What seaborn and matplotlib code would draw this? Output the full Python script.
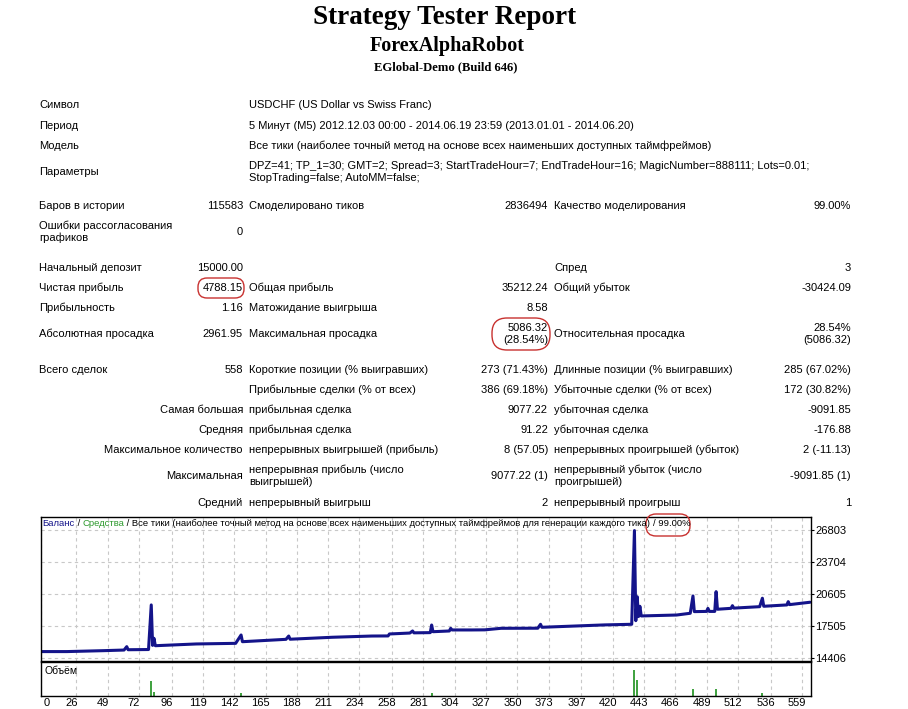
import numpy as np
import matplotlib
matplotlib.use("Agg")
import matplotlib.pyplot as plt
from matplotlib.patches import FancyBboxPatch
from matplotlib.transforms import ScaledTranslation
import seaborn as sns

# header
title = "Strategy Tester Report"
robot = "ForexAlphaRobot"
server = "EGlobal-Demo (Build 646)"

# general info
info_names = ["Символ", "Период", "Модель", "Параметры"]
info_texts = [
    "USDCHF (US Dollar vs Swiss Franc)",
    "5 Минут (M5) 2012.12.03 00:00 - 2014.06.19 23:59 (2013.01.01 - 2014.06.20)",
    "Все тики (наиболее точный метод на основе всех наименьших доступных таймфреймов)",
    "DPZ=41; TP_1=30; GMT=2; Spread=3; StartTradeHour=7; EndTradeHour=16; MagicNumber=888111; Lots=0.01;\n"
    "StopTrading=false; AutoMM=false;",
]

# results: label, value, label, value, label, value
stats_rows = [
    ["Баров в истории", "115583", "Смоделировано тиков", "2836494", "Качество моделирования", "99.00%"],
    ["Ошибки рассогласования\nграфиков", "0", "", "", "", ""],
    ["Начальный депозит", "15000.00", "", "", "Спред", "3"],
    ["Чистая прибыль", "4788.15", "Общая прибыль", "35212.24", "Общий убыток", "-30424.09"],
    ["Прибыльность", "1.16", "Матожидание выигрыша", "8.58", "", ""],
    ["Абсолютная просадка", "2961.95", "Максимальная просадка", "5086.32\n(28.54%)",
     "Относительная просадка", "28.54%\n(5086.32)"],
    ["Всего сделок", "558", "Короткие позиции (% выигравших)", "273 (71.43%)",
     "Длинные позиции (% выигравших)", "285 (67.02%)"],
    ["", "", "Прибыльные сделки (% от всех)", "386 (69.18%)", "Убыточные сделки (% от всех)", "172 (30.82%)"],
]

# trade rows: prefix, label, value, label, value
trade_rows = [
    ["Самая большая", "прибыльная сделка", "9077.22", "убыточная сделка", "-9091.85"],
    ["Средняя", "прибыльная сделка", "91.22", "убыточная сделка", "-176.88"],
    ["Максимальное количество", "непрерывных выигрышей (прибыль)", "8 (57.05)",
     "непрерывных проигрышей (убыток)", "2 (-11.13)"],
    ["Максимальная", "непрерывная прибыль (число\nвыигрышей)", "9077.22 (1)",
     "непрерывный убыток (число\nпроигрышей)", "-9091.85 (1)"],
    ["Средний", "непрерывный выигрыш", "2", "непрерывный проигрыш", "1"],
]

# chart caption pieces
caption = ["Баланс", " / ", "Средства", " / Все тики (наиболее точный метод на основе всех "
           "наименьших доступных таймфреймов для генерации каждого тика) ", "/ 99.00%"]

# balance curve
trade_no = [0, 19, 46, 61, 63, 64, 79, 81, 82, 83, 84, 114, 143, 147, 148, 180, 182, 183,
            214, 243, 255, 256, 271, 273, 274, 286, 287, 288, 300, 301, 302, 316, 326, 338,
            365, 367, 368, 380, 414, 434, 436, 437, 438, 439, 440, 441, 467, 477, 479, 480,
            489, 490, 491, 495, 496, 497, 507, 508, 509, 528, 530, 531, 548, 549, 550, 565]
balance = [15000, 15000, 15090, 15150, 15480, 15180, 15200, 19530, 15600, 16290, 15570,
           15740, 15800, 16610, 15960, 16190, 16510, 16200, 16390, 16510, 16520, 16710,
           16800, 17000, 16820, 16840, 17580, 16930, 17000, 17260, 17100, 17100, 17110,
           17260, 17270, 17650, 17360, 17420, 17590, 17650, 26750, 18000, 20330, 18400,
           19400, 18460, 18550, 18720, 20400, 18880, 18900, 19200, 18900, 18900, 20820,
           19110, 19200, 19460, 19220, 19360, 20180, 19400, 19530, 19850, 19560, 19790]

# volume bars
vol_trade = [81, 83, 147, 287, 436, 438, 479, 496, 530]
vol_size = [0.44, 0.12, 0.08, 0.08, 0.76, 0.47, 0.20, 0.20, 0.09]

x_ticks = [0, 26, 49, 72, 96, 119, 142, 165, 188, 211, 234, 258, 281, 304, 327, 350,
           373, 397, 420, 443, 466, 489, 512, 536, 559]
y_ticks = [14406, 17505, 20605, 23704, 26803]

sns.set_style("white")
plt.rcParams["font.family"] = ["Liberation Sans", "DejaVu Sans"]
plt.rcParams["text.color"] = "black"
plt.rcParams["xtick.color"] = "black"
plt.rcParams["ytick.color"] = "black"

W, H = 908, 709
fig = plt.figure(figsize=(W / 100, H / 100), dpi=100)

navy = "#14148a"
green = "#2e9a2e"
grid_c = "#c8c8c8"

def fax(x0, y0, x1, y1):
    # pixel box -> figure fraction
    return [x0 / W, 1 - y1 / H, (x1 - x0) / W, (y1 - y0) / H]

# balance panel
ax = fig.add_axes(fax(41, 517, 810.7, 660.7))
sns.lineplot(x=trade_no, y=balance, ax=ax, color=navy, linewidth=2.2,
             estimator=None, sort=False)
ax.set_xlim(2.85, 565.5)
ax.set_ylim(14115, 28066)
ax.set_xticks(x_ticks)
ax.set_xticklabels([])
ax.set_yticks(y_ticks)
ax.yaxis.tick_right()
ax.tick_params(axis="y", length=2, width=0.8, pad=1.5, labelsize=8)
ax.tick_params(axis="x", length=0)
ax.grid(True, color=grid_c, linestyle=(0, (3, 3)), linewidth=0.8)
ax.set_xlabel("")
ax.set_ylabel("")
for s in ax.spines.values():
    s.set_color("black")
    s.set_linewidth(1)

# volume panel
axv = fig.add_axes(fax(41, 662, 810.7, 695.7))
axv.vlines(vol_trade, 0, vol_size, color=green, linewidth=1.3)
axv.set_xlim(2.85, 565.5)
axv.set_ylim(0, 1)
axv.set_yticks([])
axv.set_xticks(x_ticks)
axv.set_xticklabels([str(t) for t in x_ticks])
axv.tick_params(axis="x", length=0, pad=2, labelsize=8)
axv.grid(True, axis="x", color=grid_c, linestyle=(0, (3, 3)), linewidth=0.8)
for i, lab in enumerate(axv.get_xticklabels()):
    dx = 6 if i == 0 else -5
    lab.set_transform(lab.get_transform() + ScaledTranslation(dx / 100, 0, fig.dpi_scale_trans))
for s in axv.spines.values():
    s.set_color("black")
    s.set_linewidth(1)
axv.text(0.004, 0.72, "Объём", transform=axv.transAxes, fontsize=7.5, va="center", ha="left")

# overlay for the report text
ov = fig.add_axes([0, 0, 1, 1], zorder=5)
ov.set_xlim(0, W)
ov.set_ylim(H, 0)
ov.axis("off")
ov.patch.set_alpha(0)

serif = "Liberation Serif"
ov.text(445, 18, title, fontsize=19.5, fontweight="bold", family=serif, ha="center", va="center")
ov.text(447, 46, robot, fontsize=14.5, fontweight="bold", family=serif, ha="center", va="center")
ov.text(446, 67, server, fontsize=9.1, fontweight="bold", family=serif, ha="center", va="center")

fs = 8
c1, v1, c2, v2, c3, v3 = 39, 243, 249, 548, 554, 851

for name, txt, y in zip(info_names, info_texts, [105, 126, 146, 172]):
    ov.text(c1, y, name, fontsize=fs, ha="left", va="center")
    ov.text(c2, y, txt, fontsize=fs, ha="left", va="center", linespacing=1.3)

stat_y = [206, 232, 268, 288, 308, 334, 370, 390]
for row, y in zip(stats_rows, stat_y):
    ov.text(c1, y, row[0], fontsize=fs, ha="left", va="center", linespacing=1.2)
    ov.text(v1, y, row[1], fontsize=fs, ha="right", va="center")
    ov.text(c2, y, row[2], fontsize=fs, ha="left", va="center")
    ov.text(v2, y, row[3], fontsize=fs, ha="right", va="center", multialignment="right", linespacing=1.3)
    ov.text(c3, y, row[4], fontsize=fs, ha="left", va="center")
    ov.text(v3, y, row[5], fontsize=fs, ha="right", va="center", multialignment="right", linespacing=1.3)

trade_y = [410, 430, 450, 476, 503]
for row, y in zip(trade_rows, trade_y):
    ov.text(v1, y, row[0], fontsize=fs, ha="right", va="center")
    ov.text(c2, y, row[1], fontsize=fs, ha="left", va="center", linespacing=1.2)
    ov.text(v2, y, row[2], fontsize=fs, ha="right", va="center")
    ov.text(c3, y, row[3], fontsize=fs, ha="left", va="center", linespacing=1.2)
    ov.text(v3, y, row[4], fontsize=fs, ha="right", va="center")

# chart caption, pieces chained one after another
renderer = fig.canvas.get_renderer()
cap_x = 42.5
for piece, col in zip(caption, [navy, "black", green, "black", "black"]):
    t = ov.text(cap_x, 524, piece, color=col, fontsize=6.8, ha="left", va="center")
    cap_x = t.get_window_extent(renderer).x1

# red highlight marks
for cx, cy, w, h in [(221, 288, 46, 20), (521, 334, 58, 32), (668, 525, 44, 22)]:
    ov.add_patch(FancyBboxPatch((cx - w / 2, cy - h / 2), w, h,
                                boxstyle=f"round,pad=0,rounding_size={h / 2 - 1}",
                                fill=False, edgecolor="#c8312f", linewidth=1.0))

fig.savefig("out.png", dpi=100)
